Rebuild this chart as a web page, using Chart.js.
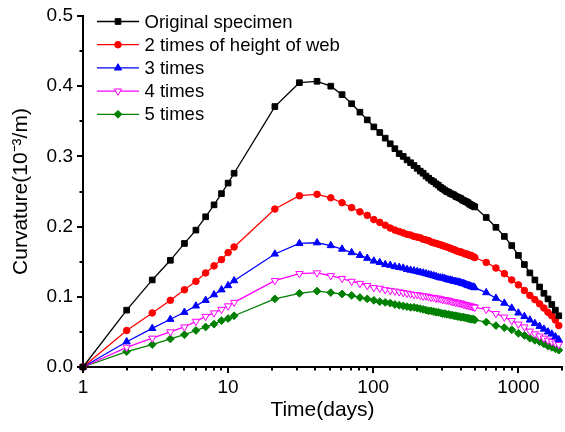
<!DOCTYPE html>
<html>
<head>
<meta charset="utf-8">
<script src="https://cdn.jsdelivr.net/npm/chart.js@4.4.1/dist/chart.umd.min.js"></script>
<style>
  html, body { margin: 0; padding: 0; background: #fff; }
  #wrap { width: 565px; height: 432px; }
  canvas { display: block; }
</style>
</head>
<body>
<div id="wrap"><canvas id="curvChart" width="565" height="432"></canvas></div>
<script>
// -----------------------------
// Data
// -----------------------------
const days = [1, 2, 3, 4, 5, 6, 7, 8, 9, 10, 11,
  21, 31, 41, 51, 61, 71, 81, 91,
  101, 111, 121, 131, 141, 151, 161, 171, 181, 191,
  201, 211, 221, 231, 241, 251, 261, 271, 281, 291,
  301, 311, 321, 331, 341, 351, 361, 371, 381, 391,
  401, 411, 421, 431, 441, 451, 461, 471, 481, 491, 501,
  601, 701, 801, 901, 1001, 1101, 1201, 1301, 1401, 1501, 1601, 1701, 1801, 1901];

const original = [0, .081, .124, .152, .176, .195, .214, .231, .247, .262, .276,
  .371, .405, .407, .400, .388, .375, .363, .352,
  .342, .334, .326, .318, .311, .304, .300, .295, .291, .287,
  .283, .279, .276, .272, .269, .266, .264, .261, .259, .256,
  .254, .252, .250, .249, .247, .246, .245, .243, .242, .241,
  .240, .238, .237, .236, .235, .234, .232, .231, .230, .229, .228,
  .213, .199, .186, .173, .159, .146, .134, .124, .114, .105, .097, .089, .081, .073];

const twoTimes = [0, .052, .077, .095, .110, .122, .134, .144, .153, .163, .171,
  .225, .244, .246, .241, .234, .227, .221, .216,
  .210, .206, .202, .198, .195, .193, .191, .189, .188, .186,
  .185, .184, .182, .181, .180, .178, .177, .176, .175, .174,
  .173, .172, .171, .170, .169, .168, .167, .166, .165, .164,
  .164, .163, .162, .161, .161, .160, .159, .159, .158, .157, .156,
  .149, .141, .133, .124, .117, .109, .102, .096, .090, .084, .078, .073, .067, .059];

const threeTimes = [0, .036, .055, .068, .078, .087, .095, .103, .110, .116, .123,
  .161, .176, .177, .173, .168, .163, .159, .155,
  .151, .149, .146, .145, .143, .142, .141, .139, .138, .137,
  .136, .135, .134, .133, .132, .131, .130, .129, .128, .127,
  .127, .126, .125, .124, .124, .123, .122, .122, .121, .121,
  .120, .119, .119, .118, .117, .116, .116, .115, .114, .114, .113,
  .106, .098, .091, .084, .077, .072, .067, .062, .058, .054, .050, .047, .043, .039];

const fourTimes = [0, .028, .041, .050, .057, .065, .072, .077, .082, .087, .092,
  .123, .133, .134, .130, .126, .122, .119, .116,
  .113, .112, .110, .109, .108, .107, .106, .105, .104, .103,
  .103, .102, .101, .101, .100, .099, .099, .098, .098, .097,
  .096, .096, .095, .095, .094, .093, .093, .092, .092, .091,
  .091, .090, .089, .089, .088, .088, .087, .087, .086, .086, .085,
  .082, .076, .071, .066, .061, .057, .051, .047, .044, .041, .038, .036, .034, .032];

const fiveTimes = [0, .022, .032, .040, .046, .052, .057, .061, .066, .069, .073,
  .097, .105, .108, .106, .104, .102, .099, .097,
  .095, .093, .092, .091, .089, .088, .087, .086, .085, .085,
  .084, .083, .082, .081, .080, .080, .079, .078, .078, .077,
  .076, .076, .075, .075, .074, .074, .073, .073, .072, .072,
  .071, .071, .071, .070, .070, .069, .069, .068, .068, .068, .067,
  .064, .059, .056, .053, .048, .045, .041, .038, .036, .033, .030, .028, .026, .024];

const seriesNames = ["Original specimen", "2 times of height of web", "3 times", "4 times", "5 times"];
const xTicks = [1, 2, 3, 4, 5, 6, 7, 8, 9, 10, 20, 30, 40, 50, 60, 70, 80, 90,
  100, 200, 300, 400, 500, 600, 700, 800, 900, 1000, 2000];
const xLabelled = [1, 10, 100, 1000];

const FONT = '"Liberation Sans", Arial, sans-serif';
Chart.defaults.font.family = FONT;
Chart.defaults.color = "#000";

function toPoints(values) {
  return values.map((v, i) => ({ x: days[i], y: v }));
}

function makeSet(name, values, color, style, extra = {}) {
  return Object.assign({
    label: name,
    data: toPoints(values),
    borderColor: color,
    backgroundColor: color,
    borderWidth: 1.3,
    pointStyle: style,
    pointRadius: 4,
    pointBackgroundColor: color,
    pointBorderColor: color,
    pointBorderWidth: 1,
    pointHoverRadius: 4,
    tension: 0,
    clip: false
  }, extra);
}

// keep the plot box where the layout padding puts it
function noScalePadding(scale) {
  scale.paddingLeft = 0;
  scale.paddingRight = 0;
  scale.paddingTop = 0;
  scale.paddingBottom = 0;
}

// -----------------------------
// Plugins: outward tick marks + line/marker legend
// -----------------------------
const tickMarks = {
  id: "tickMarks",
  afterDraw(chart) {
    const { ctx, chartArea, scales } = chart;
    ctx.save();
    ctx.strokeStyle = "#000";
    ctx.lineWidth = 2;
    scales.x.ticks.forEach(t => {
      const px = Math.round(scales.x.getPixelForValue(t.value));
      const len = xLabelled.includes(t.value) ? 6 : 3.5;
      ctx.beginPath();
      ctx.moveTo(px, chartArea.bottom);
      ctx.lineTo(px, chartArea.bottom + len);
      ctx.stroke();
    });
    scales.y.ticks.forEach((t, i) => {
      const py = Math.round(scales.y.getPixelForValue(t.value));
      const len = i % 2 === 0 ? 6 : 3.5;
      ctx.beginPath();
      ctx.moveTo(chartArea.left, py);
      ctx.lineTo(chartArea.left - len, py);
      ctx.stroke();
    });
    ctx.restore();
  }
};

const lineLegend = {
  id: "lineLegend",
  afterDatasetsDraw(chart) {
    const ctx = chart.ctx;
    ctx.save();
    chart.data.datasets.forEach((ds, i) => {
      const y = 21.5 + i * 23.2;
      ctx.strokeStyle = ds.borderColor;
      ctx.lineWidth = ds.borderWidth;
      ctx.beginPath();
      ctx.moveTo(97, y);
      ctx.lineTo(139, y);
      ctx.stroke();
      if (Chart.helpers && Chart.helpers.drawPoint) {
        ctx.fillStyle = ds.pointBackgroundColor;
        ctx.strokeStyle = ds.pointBorderColor;
        ctx.lineWidth = 1;
        Chart.helpers.drawPoint(ctx, {
          pointStyle: ds.pointStyle,
          radius: ds.pointRadius,
          rotation: ds.pointRotation || 0,
          borderWidth: 1
        }, 118, y);
      }
      ctx.fillStyle = "#000";
      ctx.font = "18.5px " + FONT;
      ctx.textBaseline = "middle";
      ctx.textAlign = "left";
      ctx.fillText(ds.label, 144.5, y + 1);
    });
    ctx.restore();
  }
};

// -----------------------------
// Chart
// -----------------------------
new Chart(document.getElementById("curvChart"), {
  type: "line",
  data: {
    datasets: [
      makeSet(seriesNames[0], original, "#000000", "rect"),
      makeSet(seriesNames[1], twoTimes, "#ff0000", "circle", { pointRadius: 3.3 }),
      makeSet(seriesNames[2], threeTimes, "#0000ff", "triangle", { pointRadius: 4.2 }),
      makeSet(seriesNames[3], fourTimes, "#ff00ff", "triangle", {
        pointRadius: 4.2, pointRotation: 180, pointBackgroundColor: "#ffffff"
      }),
      makeSet(seriesNames[4], fiveTimes, "#008000", "rectRot", { pointRadius: 3.9 })
    ]
  },
  options: {
    responsive: false,
    devicePixelRatio: 1,
    animation: false,
    events: [],
    layout: { autoPadding: false, padding: { top: 16, right: 3, left: 0, bottom: 0 } },
    plugins: {
      legend: { display: false },
      tooltip: { enabled: false }
    },
    scales: {
      x: {
        type: "logarithmic",
        min: 1,
        max: 2000,
        afterBuildTicks: scale => {
          scale.ticks = xTicks.map(v => ({ value: v }));
        },
        afterFit: scale => {
          scale.height = 65;
          noScalePadding(scale);
        },
        grid: { drawOnChartArea: false, drawTicks: false },
        border: { display: true, width: 2, color: "#000" },
        ticks: {
          autoSkip: false,
          maxRotation: 0,
          padding: 9,
          font: { size: 19 },
          callback: value => (xLabelled.includes(value) ? String(value) : "")
        },
        title: {
          display: true,
          text: "Time(days)",
          font: { size: 21 },
          padding: { top: 0, bottom: 9 }
        }
      },
      y: {
        min: 0,
        max: 0.5,
        afterFit: scale => {
          scale.width = 83;
          noScalePadding(scale);
        },
        grid: { drawOnChartArea: false, drawTicks: false },
        border: { display: true, width: 2, color: "#000" },
        ticks: {
          stepSize: 0.05,
          padding: 10,
          font: { size: 19 },
          callback: value => {
            const tenth = value * 10;
            return Math.abs(tenth - Math.round(tenth)) < 1e-6 ? value.toFixed(1) : "";
          }
        },
        title: {
          display: true,
          text: "Curvature(10\u207B\u00B3/m)",
          font: { size: 21 },
          padding: { top: 9, bottom: 0 }
        }
      }
    }
  },
  plugins: [tickMarks, lineLegend]
});
</script>
</body>
</html>
